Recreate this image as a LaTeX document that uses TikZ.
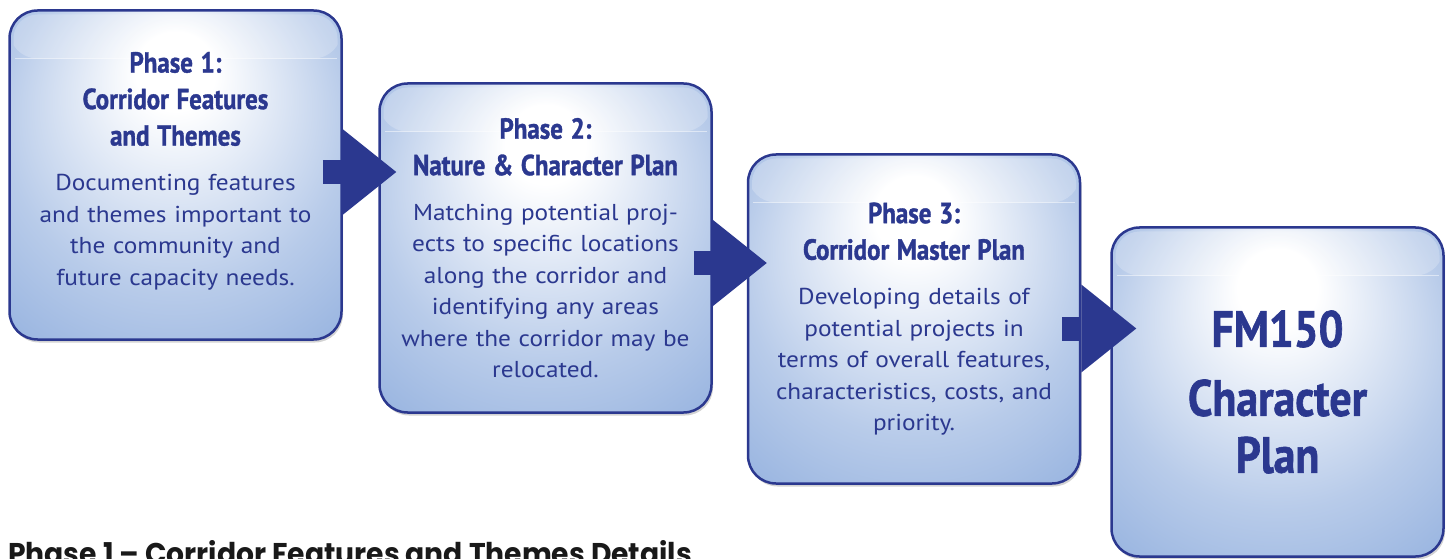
\documentclass[tikz,border=0pt]{standalone}
\usepackage{fontspec}
\setmainfont{PT Sans}[FakeStretch=1.1]
\newfontfamily\condfont{PT Sans}[FakeStretch=0.86, FakeBold=1.2]
\newfontfamily\headfont{Poppins}[FakeStretch=0.94]
\usepackage{tikz}
\usetikzlibrary{arrows.meta, positioning, shadows}

\definecolor{navy}{RGB}{43,56,143}
\definecolor{boxblue}{RGB}{126,161,216}
\pgfdeclareradialshading{boxglow}{\pgfpoint{0bp}{18bp}}{color(0bp)=(white); color(6bp)=(white); color(26bp)=(boxblue!55!white); color(48bp)=(boxblue)}

\newcommand{\phasetitle}{\condfont\bfseries\fontsize{29}{36.5}\selectfont}

\tikzset{
    gloss/.style={fill=white, opacity=0.22, rounded corners=24pt},
    glossy/.style={path picture={
        \begin{scope}
          \clip ([yshift=-48pt]path picture bounding box.north west) rectangle (path picture bounding box.north east);
          \fill[gloss] ([shift={(4pt,-4pt)}]path picture bounding box.north west) rectangle ([shift={(-4pt,4pt)}]path picture bounding box.south east);
        \end{scope}
        \draw[white, opacity=0.5, line width=0.6pt] ([shift={(5pt,-48pt)}]path picture bounding box.north west) -- ([shift={(-5pt,-48pt)}]path picture bounding box.north east);
    }}
}

\begin{document}
\begin{tikzpicture}[
    x=1pt, y=1pt,
    phasebox/.style={rectangle, rounded corners=28pt, draw=navy, line width=2.5pt, shade, shading=boxglow, glossy,
        drop shadow={shadow xshift=1.5pt, shadow yshift=-3pt, opacity=0.35},
        minimum width=332pt, minimum height=329pt, text width=326pt, inner sep=0pt,
        align=center, text=navy, font=\fontsize{23}{31.5}\selectfont},
    flowarrow/.style={draw=navy, line width=24pt, -{Triangle[length=55pt, width=88pt, line width=0pt]}},
    headline/.style={font=\headfont\bfseries\fontsize{30}{36}\selectfont, text=black!90, inner sep=0pt}
]
\useasboundingbox (0,0) rectangle (1452,558);

\node[phasebox] (b1) at (175.5,383) {{\phasetitle Phase 1:\\Corridor Features\\and Themes\\[13.5pt]}Documenting features\\and themes important to\\the community and\\future capacity needs.\\[-18.5pt]\mbox{}};
\node[phasebox] (b2) at (545.5,310) {{\phasetitle Phase 2:\\Nature \& Character Plan\\[13.5pt]}Matching potential proj-\\ects to specific locations\\along the corridor and\\identifying any areas\\where the corridor may be\\relocated.};
\node[phasebox] (b3) at (914,239) {{\phasetitle Phase 3:\\Corridor Master Plan\\[13.5pt]}Developing details of\\potential projects in\\terms of overall features,\\characteristics, costs, and\\priority.};
\node[phasebox, font=\condfont\bfseries\fontsize{51}{57}\selectfont] (b4) at (1277.5,166) {\vspace*{12pt}FM150\\Character\\Plan};

\coordinate (a1) at ([xshift=-20pt, yshift=3pt]b1.east);
\coordinate (a2) at ([xshift=-19pt, yshift=-15pt]b2.east);
\coordinate (a3) at ([xshift=-19pt, yshift=-9.5pt]b3.east);
\draw[flowarrow] (a1) -- ([xshift=18pt]b2.west |- a1);
\draw[flowarrow] (a2) -- ([xshift=20pt]b3.west |- a2);
\draw[flowarrow] (a3) -- ([xshift=26pt]b4.west |- a3);

\node[headline, anchor=base west] (details) at (8,-6) {Phase 1 – Corridor Features and Themes Details};

\end{tikzpicture}
\end{document}
